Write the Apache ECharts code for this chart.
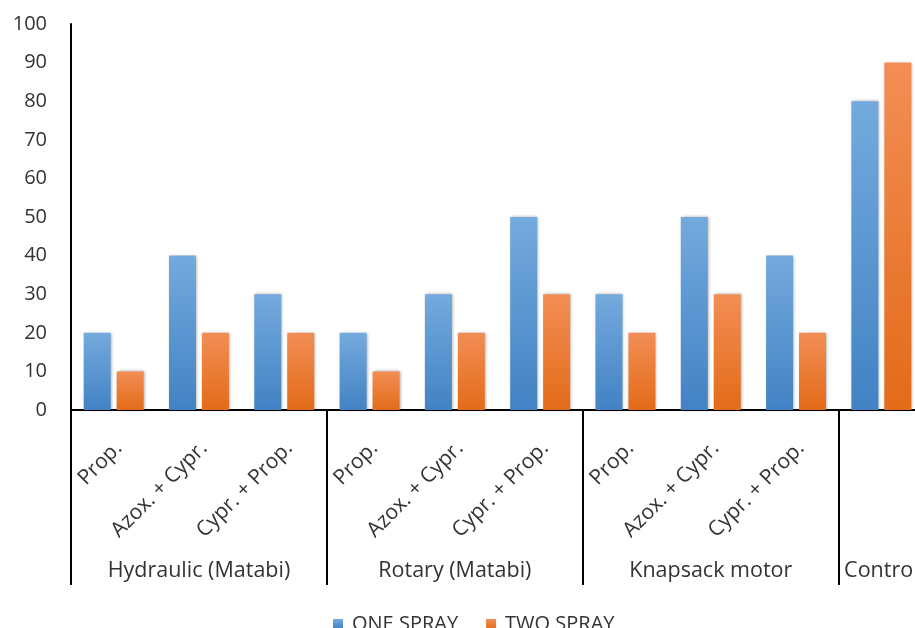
<!DOCTYPE html>
<html>
<head>
<meta charset="utf-8">
<script src="https://cdn.jsdelivr.net/npm/echarts@6/dist/echarts.min.js"></script>
<style>
  html, body { margin: 0; padding: 0; background: #fff; overflow: hidden; }
  /* the drawing is a little wider than the window: the Control block runs off the right edge */
  #chart { width: 924px; height: 628px; }
</style>
</head>
<body>
<div id="chart"></div>
<script>
// Treatments (one bar pair each) and the application method they belong to
const treatments = ['Prop.', 'Azox. + Cypr.', 'Cypr. + Prop.',
                    'Prop.', 'Azox. + Cypr.', 'Cypr. + Prop.',
                    'Prop.', 'Azox. + Cypr.', 'Cypr. + Prop.',
                    ''];
const methods = ['Hydraulic (Matabi)', 'Rotary (Matabi)', 'Knapsack motor', 'Control'];
// index of the treatment under which each method name is centred
const methodLabelAt = { 1: 0, 4: 1, 7: 2, 9: 3 };
// first treatment index of every method block (separator lines)
const methodStarts = [0, 3, 6, 9];

const oneSpray = [20, 40, 30, 20, 30, 50, 30, 50, 40, 80];
const twoSpray = [10, 20, 20, 10, 20, 30, 20, 30, 20, 90];

const yTicks = { min: 0, max: 100, interval: 10 };

const FONT = 'Open Sans';
const TEXT = '#333333';

function grad(top, bottom) {
  return new echarts.graphic.LinearGradient(0, 0, 0, 1, [
    { offset: 0, color: top },
    { offset: 1, color: bottom }
  ]);
}

const chart = echarts.init(document.getElementById('chart'), null, { renderer: 'canvas' });

chart.setOption({
  animation: false,
  backgroundColor: '#ffffff',
  textStyle: { fontFamily: FONT },
  grid: { left: 71, top: 24, right: 0, bottom: 218, containLabel: false },
  legend: {
    top: 609,
    left: 328,
    itemWidth: 10,
    itemHeight: 10,
    itemGap: 28,
    icon: 'rect',
    textStyle: { fontFamily: FONT, fontSize: 20, color: TEXT, padding: [0, 0, 0, 4] },
    data: ['ONE SPRAY', 'TWO SPRAY']
  },
  xAxis: [
    {
      type: 'category',
      data: treatments,
      position: 'bottom',
      axisLine: { lineStyle: { color: '#000', width: 2 } },
      axisTick: {
        show: true,
        length: 175,
        interval: (i) => methodStarts.indexOf(i) >= 0,
        lineStyle: { color: '#000', width: 2 }
      },
      axisLabel: {
        rotate: 45,
        margin: 30,
        interval: 0,
        align: 'right',
        verticalAlign: 'top',
        lineHeight: 14,
        fontFamily: FONT,
        fontSize: 21,
        color: TEXT
      }
    },
    {
      type: 'category',
      data: treatments,
      position: 'bottom',
      axisLine: { show: false },
      axisTick: { show: false },
      axisLabel: {
        interval: (i) => methodLabelAt[i] !== undefined,
        margin: 150,
        fontFamily: FONT,
        fontSize: 21.5,
        color: TEXT,
        formatter: (v, i) => methods[methodLabelAt[i]]
      }
    }
  ],
  yAxis: {
    type: 'value',
    min: yTicks.min,
    max: yTicks.max,
    interval: yTicks.interval,
    axisLine: { show: true, lineStyle: { color: '#000', width: 2 } },
    axisTick: { show: false },
    splitLine: { show: false },
    axisLabel: { margin: 24, fontFamily: FONT, fontSize: 20, color: TEXT }
  },
  series: [
    {
      name: 'ONE SPRAY',
      type: 'bar',
      data: oneSpray,
      barWidth: 27,
      barGap: '22%',
      itemStyle: {
        color: grad('#74aadd', '#4282c4'),
        shadowColor: 'rgba(0,0,0,0.35)',
        shadowBlur: 3,
        shadowOffsetX: 1
      }
    },
    {
      name: 'TWO SPRAY',
      type: 'bar',
      data: twoSpray,
      barWidth: 27,
      itemStyle: {
        color: grad('#f28e55', '#e36b19'),
        shadowColor: 'rgba(0,0,0,0.35)',
        shadowBlur: 3,
        shadowOffsetX: 1
      }
    }
  ]
});
</script>
</body>
</html>
